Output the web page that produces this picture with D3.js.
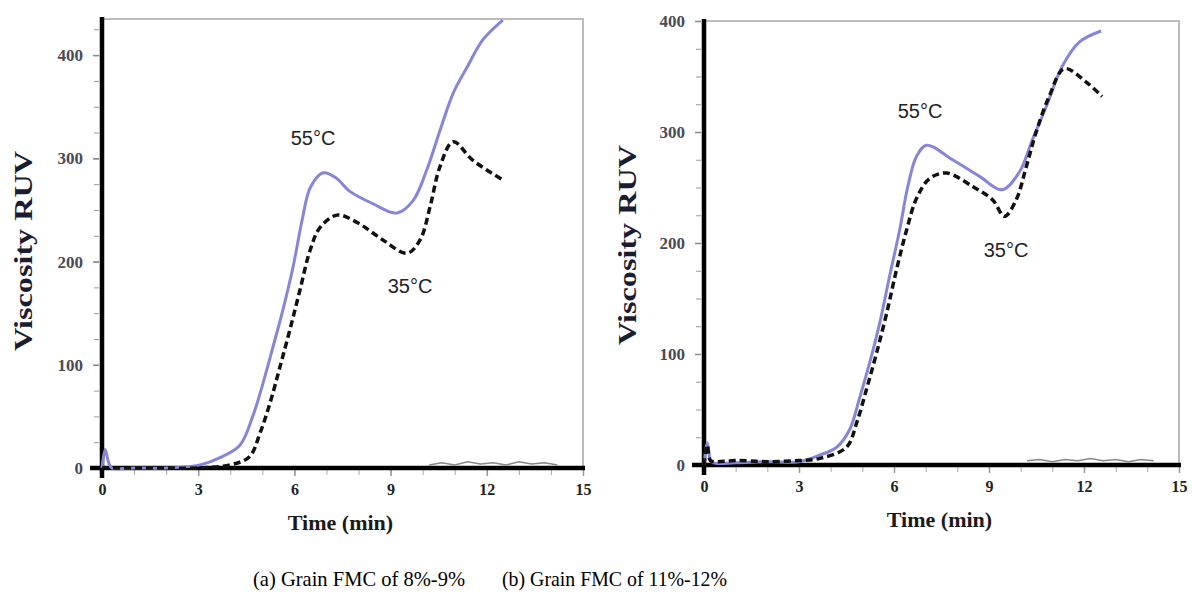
<!DOCTYPE html>
<html><head><meta charset="utf-8">
<script src="https://cdn.jsdelivr.net/npm/d3@7"></script>
<style>
html,body{margin:0;padding:0;background:#fff;}
svg{display:block;}
</style></head>
<body>
<svg id="chart" width="1192" height="596"></svg>
<script>
// ---------- DATA ----------
const xTicks = [0, 3, 6, 9, 12, 15];
const yTicksA = [0, 100, 200, 300, 400];
const yTicksB = [0, 100, 200, 300, 400];
const seriesLabels = ["55°C", "35°C"];
const captions = ["(a) Grain FMC of 8%-9%", "(b) Grain FMC of 11%-12%"];

// Panel (a) 55°C
const tA55 = [0, 0.1, 0.2, 0.3, 1, 2, 3.06, 3.68, 4.3, 4.7, 5.02, 5.33, 5.64, 5.96, 6.24, 6.5, 6.9, 7.3, 7.73, 8.45, 9.2, 9.7, 10.13, 10.54, 10.95, 11.38, 11.88, 12.5];
const vA55 = [0, 18, 6, 0, 0, 0, 3, 10, 22, 50, 82, 117, 153, 195, 240, 272, 286, 281, 268, 256, 247, 259, 289, 327, 363, 388, 415, 434];
// Panel (a) 35°C
const tA35 = [0, 1, 2, 3, 4.0, 4.6, 4.93, 5.24, 5.55, 5.86, 6.17, 6.49, 6.8, 7.33, 7.95, 8.76, 9.51, 9.92, 10.23, 10.54, 10.95, 11.57, 12.5];
const vA35 = [0, 0, 0, 0, 3, 11, 34, 63, 98, 134, 172, 211, 233, 245, 238, 221, 208, 221, 253, 292, 316, 298, 279];
// Panel (a) baseline trace
const tA0 = [10.2, 10.6, 11, 11.4, 11.8, 12.2, 12.6, 13, 13.4, 13.8, 14.2];
const vA0 = [2, 4, 2, 5, 3, 4, 2, 5, 3, 4, 2];

// Panel (b) 55°C
const tB55 = [0, 0.1, 0.2, 0.3, 1, 2, 3, 3.66, 4.19, 4.6, 4.92, 5.23, 5.55, 5.86, 6.18, 6.43, 6.71, 7.03, 7.85, 8.7, 9.42, 9.96, 10.37, 10.81, 11.31, 11.85, 12.54];
const vB55 = [0, 20, 5, 2, 2, 3, 3, 9, 16, 32, 61, 92, 128, 170, 212, 250, 278, 288, 275, 260, 248, 264, 293, 323, 359, 381, 391];
// Panel (b) 35°C
const tB35 = [0, 0.1, 0.2, 0.3, 1, 2, 3, 3.66, 4.5, 4.82, 5.13, 5.45, 5.77, 6.08, 6.4, 6.71, 7.12, 7.66, 8.48, 9.11, 9.49, 9.86, 10.18, 10.49, 10.9, 11.38, 12.07, 12.57];
const vB35 = [0, 18, 4, 3, 4, 3, 4, 6, 16, 38, 68, 101, 137, 176, 212, 240, 258, 263, 251, 239, 224, 239, 269, 300, 332, 357, 345, 332];
// Panel (b) baseline trace
const tB0 = [10.2, 10.6, 11, 11.4, 11.8, 12.2, 12.6, 13, 13.4, 13.8, 14.2];
const vB0 = [3, 4, 2, 4, 3, 5, 3, 4, 2, 4, 3];

// ---------- DRAW ----------
const svg = d3.select("#chart");
const zip = (t, v) => t.map((d, i) => ({t: d, v: v[i]}));

const panels = [
  {x0: 102, x1: 583, y0: 468, y1: 19, yMax: 435, yTicks: yTicksA,
   s55: zip(tA55, vA55), s35: zip(tA35, vA35), s0: zip(tA0, vA0),
   lab55: [313, 145], lab35: [410, 293], yLab: [24, 251], cap: captions[0], capX: 253, capW: 212},
  {x0: 704, x1: 1179, y0: 465, y1: 21, yMax: 400, yTicks: yTicksB,
   s55: zip(tB55, vB55), s35: zip(tB35, vB35), s0: zip(tB0, vB0),
   lab55: [920, 118], lab35: [1006, 257], yLab: [628, 245], cap: captions[1], capX: 502, capW: 225}
];

panels.forEach(p => {
  const x = d3.scaleLinear().domain([0, 15]).range([p.x0, p.x1]);
  const y = d3.scaleLinear().domain([0, p.yMax]).range([p.y0, p.y1]);
  const g = svg.append("g");

  // frame (top & right)
  g.append("path")
    .attr("d", `M${p.x0},${p.y1}H${p.x1}V${p.y0}`)
    .attr("fill", "none").attr("stroke", "#bdbdbd").attr("stroke-width", 2);

  // minor y ticks
  const yMinor = d3.range(25, p.yMax + 1, 25);
  g.append("g").attr("transform", `translate(${p.x0 - 3},0)`)
    .call(d3.axisLeft(y).tickValues(yMinor).tickSize(5).tickFormat(""))
    .call(a => a.select(".domain").remove())
    .call(a => a.selectAll("line").attr("stroke", "#999").attr("stroke-width", 1));
  // major y ticks with labels
  g.append("g").attr("transform", `translate(${p.x0 - 3},0)`)
    .call(d3.axisLeft(y).tickValues(p.yTicks).tickSize(6).tickPadding(10))
    .call(a => a.select(".domain").remove())
    .call(a => a.selectAll("line").attr("stroke", "#888").attr("stroke-width", 1.5))
    .call(a => a.selectAll("text")
      .attr("font-family", "Liberation Serif, Times New Roman, serif")
      .attr("font-weight", "bold").attr("font-size", 17).attr("fill", "#4a4a55"));

  // x ticks minor
  g.append("g").attr("transform", `translate(0,${p.y0 + 2})`)
    .call(d3.axisBottom(x).tickValues(d3.range(1, 15, 1)).tickSize(5).tickFormat(""))
    .call(a => a.select(".domain").remove())
    .call(a => a.selectAll("line").attr("stroke", "#aaa").attr("stroke-width", 1));
  g.append("g").attr("transform", `translate(0,${p.y0 + 2})`)
    .call(d3.axisBottom(x).tickValues(xTicks).tickSize(6).tickPadding(8))
    .call(a => a.select(".domain").remove())
    .call(a => a.selectAll("line").attr("stroke", "#999").attr("stroke-width", 1.5))
    .call(a => a.selectAll("text")
      .attr("font-family", "Liberation Serif, Times New Roman, serif")
      .attr("font-weight", "bold").attr("font-size", 16).attr("fill", "#222"));

  // axis lines
  g.append("line").attr("x1", p.x0).attr("x2", p.x0).attr("y1", p.y1 - 2).attr("y2", p.y0 + 10)
    .attr("stroke", "#000").attr("stroke-width", 4.5);
  g.append("line").attr("x1", p.x0 - 12).attr("x2", p.x1 + 2).attr("y1", p.y0).attr("y2", p.y0)
    .attr("stroke", "#000").attr("stroke-width", 4.5);

  const line = d3.line().x(d => x(d.t)).y(d => y(d.v)).curve(d3.curveCatmullRom.alpha(0.5));

  // baseline noise trace
  g.append("path").datum(p.s0).attr("d", d3.line().x(d => x(d.t)).y(d => y(d.v) - 1))
    .attr("fill", "none").attr("stroke", "#888").attr("stroke-width", 1.5);

  // 55°C
  g.append("path").datum(p.s55).attr("d", line)
    .attr("fill", "none").attr("stroke", "#8686d6").attr("stroke-width", 3);
  // 35°C
  g.append("path").datum(p.s35).attr("d", line)
    .attr("fill", "none").attr("stroke", "#111").attr("stroke-width", 3.5)
    .attr("stroke-dasharray", "7,4");

  // series labels
  [[seriesLabels[0], p.lab55], [seriesLabels[1], p.lab35]].forEach(([txt, pos]) => {
    g.append("text").attr("x", pos[0]).attr("y", pos[1]).attr("text-anchor", "middle")
      .attr("font-family", "Liberation Sans, Arial, sans-serif").attr("font-size", 20)
      .attr("fill", "#222").text(txt);
  });

  // axis titles
  g.append("text").attr("x", (p.x0 + p.x1) / 2 - 2).attr("y", p.y0 + 62).attr("text-anchor", "middle")
    .attr("font-family", "Liberation Serif, Times New Roman, serif").attr("font-weight", "bold")
    .attr("font-size", 22).attr("fill", "#1a1a1a").text("Time (min)");
  g.append("text").attr("transform", `translate(${p.yLab[0] + 8},${p.yLab[1]}) rotate(-90)`)
    .attr("text-anchor", "middle")
    .attr("font-family", "Liberation Serif, Times New Roman, serif").attr("font-weight", "bold")
    .attr("font-size", 25).attr("fill", "#1c1c30")
    .attr("textLength", 200).attr("lengthAdjust", "spacingAndGlyphs")
    .text("Viscosity RUV");

  // caption
  svg.append("text").attr("x", p.capX).attr("y", 586)
    .attr("font-family", "Liberation Serif, Times New Roman, serif")
    .attr("font-size", 22).attr("fill", "#000")
    .attr("textLength", p.capW).attr("lengthAdjust", "spacingAndGlyphs")
    .text(p.cap);
});
</script>
</body></html>
